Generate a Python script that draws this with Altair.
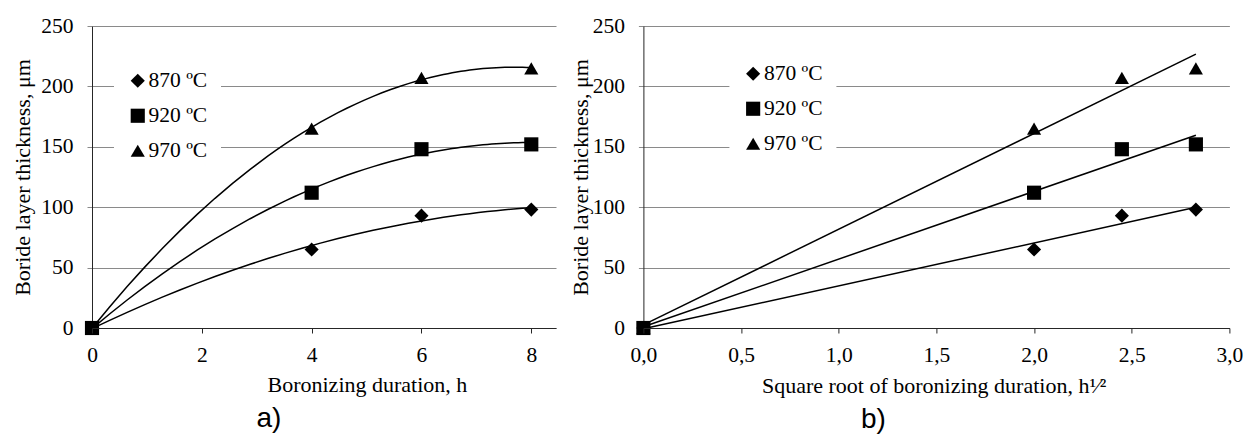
import altair as alt
import pandas as pd

SERIF = "'Liberation Serif', 'Times New Roman', Times, 'DejaVu Serif', serif"
SANS = "'Liberation Sans', Arial, 'DejaVu Sans', sans-serif"

temps = ["870 ºC", "920 ºC", "970 ºC"]
shapes = ["diamond", "square", "triangle-up"]
durations = [0, 4, 6, 8]
thick_870 = [0, 65, 93, 98]
thick_920 = [0, 112, 148, 152]
thick_970 = [0, 165, 207, 215]
y_ticks = [0, 50, 100, 150, 200, 250]
x_ticks_a = [0, 2, 4, 6, 8]
x_ticks_b = [0.0, 0.5, 1.0, 1.5, 2.0, 2.5, 3.0]

rows = []
for temp, vals in zip(temps, [thick_870, thick_920, thick_970]):
    for t, v in zip(durations, vals):
        rows.append({"temp": temp, "t": t, "thick": v})
df = pd.DataFrame(rows)

GRID = "#8a8a8a"


def y_enc(title_pad):
    return alt.Y(
        "thick:Q",
        scale=alt.Scale(domain=[0, 250], nice=False),
        axis=alt.Axis(
            values=y_ticks,
            title="Boride layer thickness, μm",
            grid=True,
            gridColor=GRID,
            tickColor=GRID,
            tickSize=5,
            labelPadding=14,
            labelFlush=False,
            titlePadding=title_pad,
            domainColor="#262626",
        ),
    )


def shape_enc(lx, ly):
    return alt.Shape(
        "temp:N",
        scale=alt.Scale(domain=temps, range=shapes),
        legend=alt.Legend(
            title=None,
            orient="none",
            legendX=lx,
            legendY=ly,
            direction="vertical",
            fillColor="white",
            padding=13,
            labelFont=SERIF,
            labelFontSize=21.5,
            labelColor="black",
            symbolSize=200,
            symbolFillColor="black",
            symbolStrokeWidth=0,
            symbolOpacity=1,
            rowPadding=12,
            labelOffset=0,
        ),
    )


# ---------- panel a ----------
xa = alt.X(
    "t:Q",
    scale=alt.Scale(domain=[0, 8.45], nice=False),
    axis=alt.Axis(
        values=x_ticks_a,
        title="Boronizing duration, h",
        grid=False,
        labelPadding=11,
        labelFlush=False,
        titleX=175,
        titleY=63,
        titleAlign="left",
        titleBaseline="alphabetic",
        zindex=1,
    ),
)

base_a = alt.Chart(df)
lines_a = base_a.transform_regression(
    "t", "thick", method="poly", order=2, groupby=["temp"]
).mark_line(color="black", strokeWidth=1.5).encode(
    x=xa, y=y_enc(6), detail="temp:N"
)
points_a = base_a.mark_point(filled=True, color="black", size=200, opacity=1).encode(
    x=xa, y=y_enc(6), shape=shape_enc(22, 31)
)
panel_a = alt.layer(lines_a, points_a).properties(
    width=464,
    height=302,
    title=alt.TitleParams(
        "a)",
        orient="bottom",
        anchor="middle",
        frame="group",
        font=SANS,
        fontSize=28,
        fontWeight="normal",
        color="black",
        dx=-55,
        offset=10,
    ),
)

# ---------- panel b ----------
xb = alt.X(
    "s:Q",
    scale=alt.Scale(domain=[0, 3], nice=False),
    axis=alt.Axis(
        values=x_ticks_b,
        labelExpr="replace(format(datum.value, '.1f'), '.', ',')",
        title="Square root of boronizing duration, h¹⁄²",
        grid=False,
        labelPadding=11,
        labelFlush=False,
        titleX=118,
        titleY=64,
        titleAlign="left",
        titleBaseline="alphabetic",
        zindex=1,
    ),
)

base_b = alt.Chart(df).transform_calculate(s="sqrt(datum.t)")
lines_b = base_b.transform_regression(
    "s", "thick", method="linear", groupby=["temp"]
).mark_line(color="black", strokeWidth=1.5).encode(
    x=xb, y=y_enc(0), detail="temp:N"
)
points_b = base_b.mark_point(filled=True, color="black", size=200, opacity=1).encode(
    x=xb, y=y_enc(0), shape=shape_enc(86, 24)
)
panel_b = alt.layer(lines_b, points_b).properties(
    width=586,
    height=302,
    title=alt.TitleParams(
        "b)",
        orient="bottom",
        anchor="middle",
        frame="group",
        font=SANS,
        fontSize=28,
        fontWeight="normal",
        color="black",
        dx=-63,
        offset=10,
    ),
)

chart = (
    alt.hconcat(panel_a, panel_b, spacing=87.4, bounds="flush")
    .resolve_scale(shape="independent", x="independent", y="independent")
    .resolve_legend(shape="independent")
    .properties(padding={"left": 3, "top": 7, "right": 0, "bottom": 0})
    .configure_view(stroke=None)
    .configure_axis(
        labelFont=SERIF,
        labelFontSize=21.5,
        labelColor="black",
        titleFont=SERIF,
        titleFontSize=22,
        titleColor="black",
        titleFontWeight="normal",
        domainColor="#262626",
        tickColor="#262626",
        tickSize=5,
    )
)

chart.save("out.html", embed_options={"renderer": "svg", "actions": False})
